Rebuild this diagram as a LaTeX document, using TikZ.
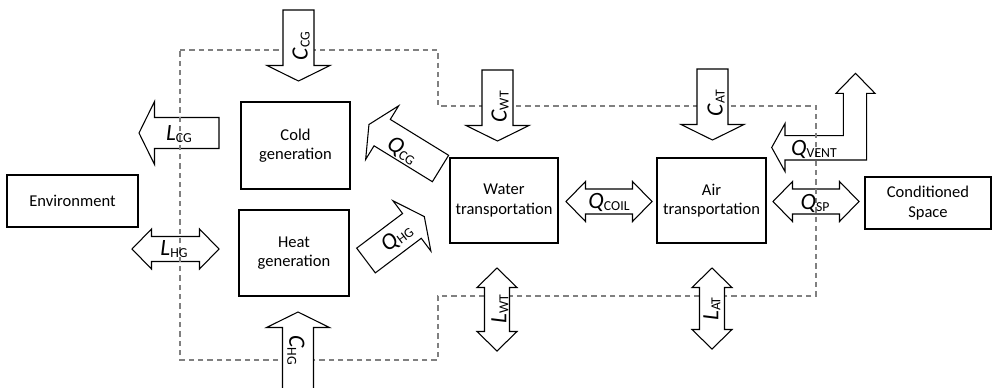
\documentclass[tikz,border=0pt]{standalone}
\usepackage{fontspec}
\setmainfont{Carlito}

% Block arrow with one head: tail point, direction (deg), length
\newcommand\onearrow[4]{%
  \begin{scope}[shift={(#1,#2)},rotate=#3]
    \draw[blockarrow] (0,-15.5) -- ({#4-15.5},-15.5) -- ({#4-15.5},-31.5) -- (#4,0)
      -- ({#4-15.5},31.5) -- ({#4-15.5},15.5) -- (0,15.5) -- cycle;
  \end{scope}}
% Block arrow with two heads: first tip, direction (deg), length
\newcommand\twoarrow[4]{%
  \begin{scope}[shift={(#1,#2)},rotate=#3]
    \draw[blockarrow] (0,0) -- (19.5,-20) -- (19.5,-12.5) -- ({#4-19.5},-12.5)
      -- ({#4-19.5},-20) -- (#4,0) -- ({#4-19.5},20) -- ({#4-19.5},12.5)
      -- (19.5,12.5) -- (19.5,20) -- cycle;
  \end{scope}}
% Flow symbol: italic letter with upright subscript
\newcommand\flowlabel[2]{{\fontsize{17.5}{18}\selectfont\itshape #1\/}\raisebox{-1.5pt}{\fontsize{10.3}{12}\selectfont #2}}

\begin{document}
\begin{tikzpicture}[x=0.75pt,y=-0.75pt,
  unit/.style={draw, line width=1.4pt, align=center, inner sep=0pt,
    font=\fontsize{12.4}{14.4}\selectfont},
  blockarrow/.style={draw, line width=0.8pt, fill=white, line join=miter},
  boundary/.style={draw=black!50, line width=0.8pt, dash pattern=on 4pt off 3pt},
  flow/.style={inner sep=0pt}]
\useasboundingbox (0,0) rectangle (993,387);

% arrows that the system boundary crosses
\onearrow{219}{133}{180}{80}
\twoarrow{132}{249}{0}{87}
\twoarrow{773}{201.5}{0}{86}
\draw[blockarrow] (771.7,147.5) -- (785,123.5) -- (785,135.7) -- (843.3,135.7)
  -- (843.3,93.3) -- (836,93.3) -- (855.5,73.3) -- (875,93.3) -- (866.7,93.3)
  -- (866.7,160) -- (785,160) -- (785,171.5) -- cycle;

% system boundary
\draw[boundary] (180,50) -- (438,50) -- (438,106) -- (816,106) -- (816,296)
  -- (438,296) -- (438,360) -- (180,360) -- cycle;

% remaining flows
\onearrow{298.5}{10}{-90}{71}
\onearrow{497.5}{70}{-90}{71}
\onearrow{712.5}{69}{-90}{71}
\onearrow{298}{395}{90}{83}
\onearrow{440.5}{168.5}{148.4}{84}
\onearrow{366}{260.5}{37}{73}
\twoarrow{566}{201.5}{0}{86}
\twoarrow{497}{268}{-90}{83}
\twoarrow{712}{268}{-90}{81}

% units
\node[unit, minimum width=98.25pt, minimum height=39pt] (env) at (72.5,201) {Environment};
\node[unit, minimum width=81.75pt, minimum height=65.25pt] (cold) at (295.5,145.5) {Cold\\generation};
\node[unit, minimum width=82.5pt, minimum height=64.5pt] (heat) at (294,253) {Heat\\generation};
\node[unit, minimum width=81pt, minimum height=63.75pt] (water) at (504,200.5) {Water\\transportation};
\node[unit, minimum width=81.75pt, minimum height=63.75pt] (air) at (711.5,200.5) {Air\\transportation};
\node[unit, minimum width=94.5pt, minimum height=39pt] (space) at (928,203) {Conditioned\\Space};

% flow labels
\node[flow, rotate=90] (ccg) at (301,46) {\flowlabel{C}{CG}};
\node[flow, rotate=90] (cwt) at (500,107) {\flowlabel{C}{WT}};
\node[flow, rotate=90] (cat) at (716,103) {\flowlabel{C}{AT}};
\node[flow, rotate=-90] (chg) at (296,350) {\flowlabel{C}{HG}};
\node[flow] (lcg) at (179,134) {\flowlabel{L}{CG}};
\node[flow] (lhg) at (174,249) {\flowlabel{L}{HG}};
\node[flow, rotate=-32] (qcg) at (402,151) {\flowlabel{Q}{CG}};
\node[flow, rotate=37] (qhg) at (397,238) {\flowlabel{Q}{HG}};
\node[flow] (qcoil) at (609,202) {\flowlabel{Q}{COIL}};
\node[flow] (qsp) at (815,203) {\flowlabel{Q}{SP}};
\node[flow] (qvent) at (814,149) {\flowlabel{Q}{VENT}};
\node[flow, rotate=90] (lwt) at (500,309) {\flowlabel{L}{WT}};
\node[flow, rotate=90] (lat) at (712,309) {\flowlabel{L}{AT}};
\end{tikzpicture}
\end{document}
